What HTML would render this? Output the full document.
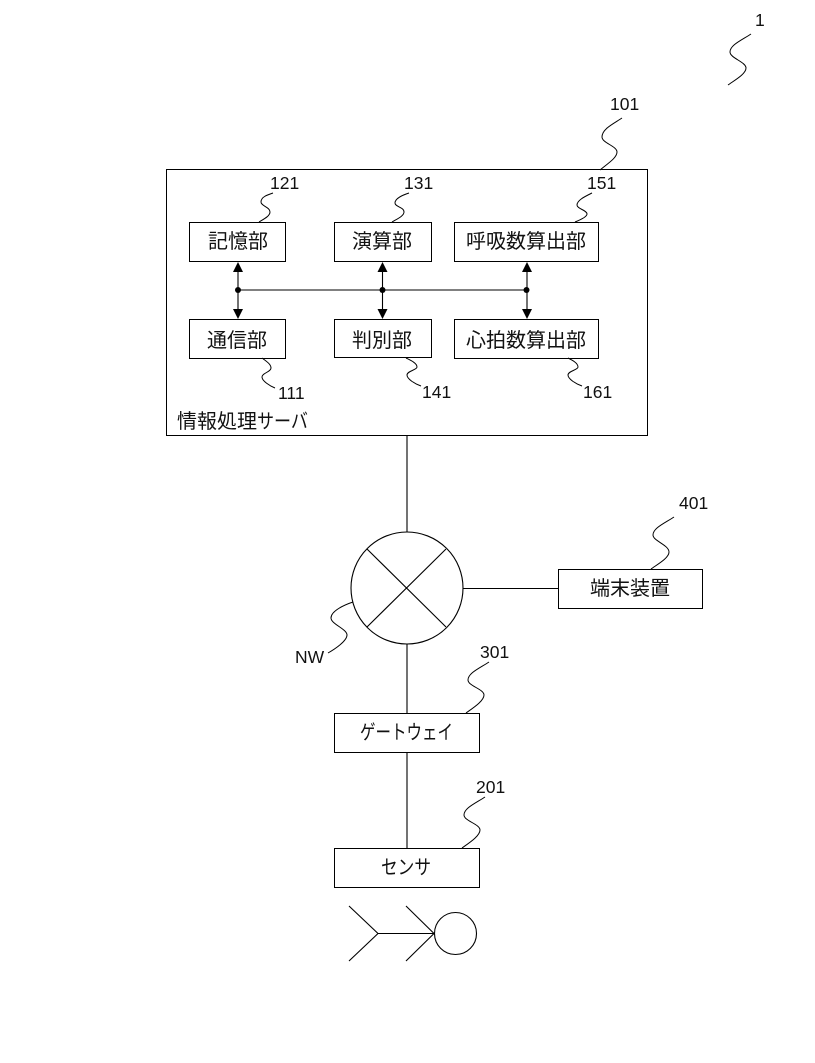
<!DOCTYPE html>
<html lang="ja">
<head>
<meta charset="utf-8">
<title>情報処理サーバ システム構成図</title>
<style>
html,body{margin:0;padding:0;background:#fff;width:815px;height:1063px;overflow:hidden}
svg{display:block}
text{font-family:"Liberation Sans","Noto Sans CJK JP",sans-serif;fill:#111}
.n{font-size:17.500px}
.j{font-size:20px}
.s{fill:#fff;stroke:#000;stroke-width:1;shape-rendering:crispEdges}
.l{stroke:#000;stroke-width:1.1;fill:none}
.c{stroke:#000;stroke-width:1.1;fill:#fff}
.q{stroke:#000;stroke-width:1;fill:none}
</style>
</head>
<body>
<svg width="815" height="1063" viewBox="0 0 815 1063" xmlns="http://www.w3.org/2000/svg">
<rect width="815" height="1063" fill="#fff"/>

<!-- outer server box -->
<rect class="s" x="166.5" y="169.5" width="481" height="266"/>

<!-- inner boxes -->
<rect class="s" x="189.5" y="222.5" width="96" height="39"/>
<rect class="s" x="334.5" y="222.5" width="97" height="39"/>
<rect class="s" x="454.5" y="222.5" width="144" height="39"/>
<rect class="s" x="189.5" y="319.5" width="96" height="39"/>
<rect class="s" x="334.5" y="319.5" width="97" height="38"/>
<rect class="s" x="454.5" y="319.5" width="144" height="39"/>

<!-- bus -->
<path class="l" d="M238 290H527M238 270V310M382.500 270V310M527 270V310"/>
<g fill="#000">
<circle cx="238" cy="290" r="3"/><circle cx="382.500" cy="290" r="3"/><circle cx="526.500" cy="290" r="3"/>
<path d="M238 262l-5 10h10zM382.500 262l-5 10h10zM527 262l-5 10h10z"/>
<path d="M238 319l-5 -10h10zM382.500 319l-5 -10h10zM527 319l-5 -10h10z"/>
</g>

<!-- network -->
<path class="l" d="M407 435V532M407 644V713M407 752V848M463 588.500H558"/>
<circle class="c" cx="407" cy="588" r="56"/>
<path class="l" d="M367 549L446 627M446 549L367 627"/>

<!-- lower boxes -->
<rect class="s" x="558.500" y="569.500" width="144" height="39"/>
<rect class="s" x="334.500" y="713.500" width="145" height="39"/>
<rect class="s" x="334.500" y="848.500" width="145" height="39"/>

<!-- person -->
<circle class="c" cx="455.500" cy="933.500" r="21"/>
<path class="l" d="M349 906L378 933.500L349 961M406 906L434 933.500L406 961M378 933.500H434"/>

<!-- squiggles -->
<path class="q" d="M751 34C742 40 730 45 730 52C730 58 746 62 746 68C746 74 735 80 728 85"/>
<path class="q" d="M622 118C613 124 602 129 602 137C602 143 617 146 617 152C617 158 607 164 600 170"/>
<path class="q" d="M273 193C267 195 261 197 261 202C261 206 270 207 270 212C270 216 264 219 259 222"/>
<path class="q" d="M409 193C403 195 395 198 395 203C395 207 404 207 404 212C404 216 397 219 392 222"/>
<path class="q" d="M592 193C586 196 577 200 577 205C577 209 587 210 587 214C587 217 580 220 575 222"/>
<path class="q" d="M262 358C266 361 271 364 271 368C271 372 262 373 262 377C262 381 270 386 275 388"/>
<path class="q" d="M406 358C410 360 417 363 417 367C417 370 407 371 407 375C407 379 415 384 421 386"/>
<path class="q" d="M568 358C572 360 578 363 578 367C578 370 568 371 568 375C568 379 576 384 582 386"/>
<path class="q" d="M674 517C665 523 653 528 653 535C653 541 669 545 669 552C669 558 658 564 651 569"/>
<path class="q" d="M489 662C480 668 468 673 468 680C468 686 484 689 484 695C484 701 473 708 466 713"/>
<path class="q" d="M353 602C344 605 331 611 331 618C331 624 347 629 347 635C347 641 335 649 328 653"/>
<path class="q" d="M485 797C476 803 464 808 464 815C464 821 480 824 480 830C480 836 469 843 462 848"/>

<!-- numbers -->
<text class="n" x="755" y="26">1</text>
<text class="n" x="610" y="110">101</text>
<text class="n" x="270" y="189">121</text>
<text class="n" x="404" y="189">131</text>
<text class="n" x="587" y="189">151</text>
<text class="n" x="278" y="399">111</text>
<text class="n" x="422" y="398">141</text>
<text class="n" x="583" y="398">161</text>
<text class="n" x="679" y="509">401</text>
<text class="n" x="480" y="658">301</text>
<text class="n" x="476" y="793">201</text>
<text class="n" x="295" y="663">NW</text>

<!-- labels -->
<text class="j" x="208" y="248">記憶部</text>
<text class="j" x="352" y="248">演算部</text>
<text class="j" x="466" y="248">呼吸数算出部</text>
<text class="j" x="207" y="347">通信部</text>
<text class="j" x="352" y="347">判別部</text>
<text class="j" x="466" y="347">心拍数算出部</text>
<text class="j" x="177" y="428">情報処理</text>
<text class="j" x="257" y="428" textLength="51" lengthAdjust="spacingAndGlyphs">サーバ</text>
<text class="j" x="590" y="595">端末装置</text>
<text class="j" x="360" y="739" textLength="93" lengthAdjust="spacingAndGlyphs">ゲートウェイ</text>
<text class="j" x="381" y="874" textLength="50" lengthAdjust="spacingAndGlyphs">センサ</text>
</svg>
</body>
</html>
